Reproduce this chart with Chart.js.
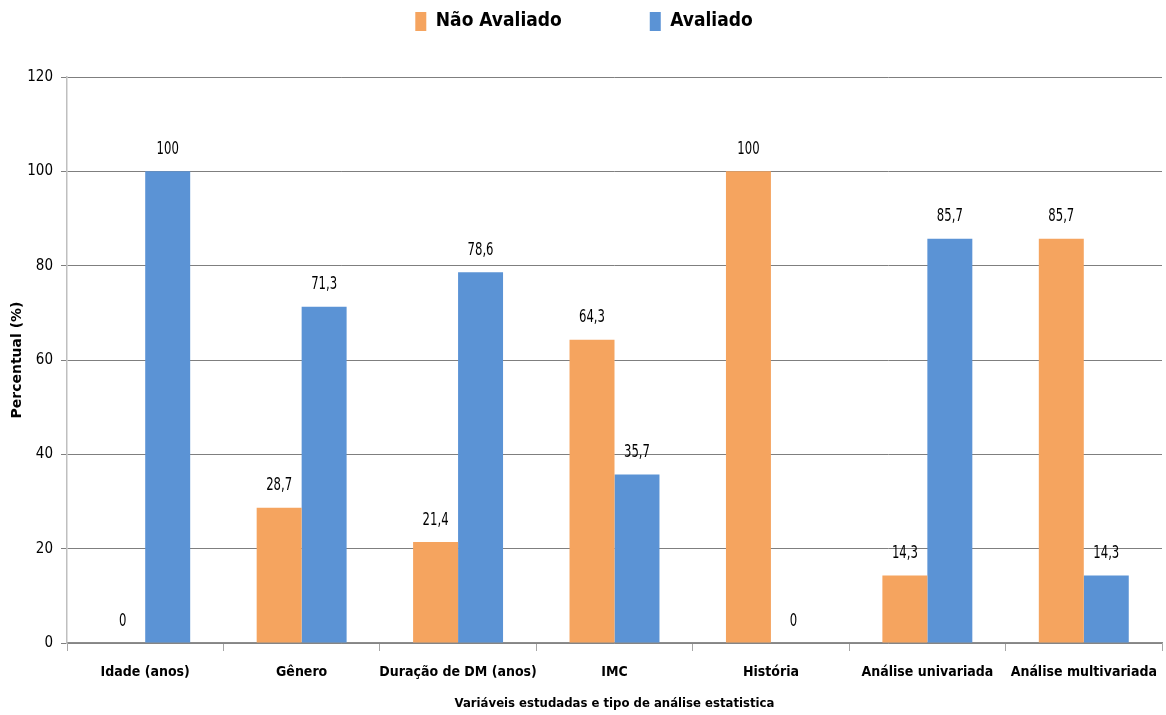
<!DOCTYPE html>
<html>
<head>
<meta charset="utf-8">
<script src="https://cdn.jsdelivr.net/npm/chart.js@4/dist/chart.umd.min.js"></script>
<style>
html,body{margin:0;padding:0;background:#fff;}
#wrap{width:1166px;height:715px;position:relative;}
</style>
</head>
<body>
<div id="wrap"><canvas id="c" width="1166" height="715"></canvas></div>
<script>
const categories = ["Idade (anos)", "Gênero", "Duração de DM (anos)", "IMC", "História", "Análise univariada", "Análise multivariada"];
const naoAvaliado = [0, 28.7, 21.4, 64.3, 100, 14.3, 85.7];
const avaliado = [100, 71.3, 78.6, 35.7, 0, 85.7, 14.3];
const seriesNames = ["Não Avaliado", "Avaliado"];
const yTicks = [0, 20, 40, 60, 80, 100, 120];

const NARROW = '"DejaVu Sans Condensed", "Liberation Sans Narrow", "Liberation Sans", sans-serif';

const labelPlugin = {
  id: 'barLabels',
  afterDatasetsDraw(chart) {
    const ctx = chart.ctx;
    chart.data.datasets.forEach((ds, i) => {
      const meta = chart.getDatasetMeta(i);
      meta.data.forEach((bar, j) => {
        const v = ds.data[j];
        const txt = String(v).replace('.', ',');
        ctx.save();
        ctx.translate(bar.x, bar.y - 22);
        ctx.scale(0.72, 1);
        ctx.font = '18px ' + NARROW;
        ctx.fillStyle = '#000';
        ctx.textAlign = 'center';
        ctx.textBaseline = 'middle';
        ctx.fillText(txt, 0, 0);
        ctx.restore();
      });
    });
  }
};

const LEGEND_TOP = -76;
const legendFitPlugin = {
  id: 'legendFit',
  beforeLayout(chart) {
    const lg = chart.legend;
    if (lg && !lg._patched) {
      const f = lg.fit;
      lg.fit = function () { f.call(this); this.height = 77 - LEGEND_TOP; };
      lg._patched = true;
    }
  }
};

new Chart(document.getElementById('c'), {
  type: 'bar',
  data: {
    labels: categories,
    datasets: [
      { label: seriesNames[0], data: naoAvaliado, backgroundColor: '#F5A45F', borderWidth: 0 },
      { label: seriesNames[1], data: avaliado, backgroundColor: '#5B93D5', borderWidth: 0 }
    ]
  },
  options: {
    responsive: false,
    animation: false,
    layout: { padding: { top: LEGEND_TOP, right: 4, left: 6, bottom: 4 } },
    plugins: {
      tooltip: { enabled: false },
      legend: {
        position: 'top',
        align: 'center',
        labels: {
          boxWidth: 11,
          boxHeight: 19,
          padding: 88,
          color: '#000',
          font: { family: NARROW, size: 19, weight: 'bold' }
        }
      }
    },
    datasets: { bar: { categoryPercentage: 0.575, barPercentage: 1.0 } },
    scales: {
      x: {
        offset: true,
        grid: { display: true, drawOnChartArea: false, offset: true, color: '#A6A6A6', tickLength: 8 },
        border: { display: true, color: '#8C8C8C', width: 1.5 },
        ticks: { color: '#000', font: { family: NARROW, size: 14, weight: 'bold' }, padding: 13, maxRotation: 0, autoSkip: false },
        title: { display: true, text: 'Variáveis estudadas e tipo de análise estatistica', color: '#000', font: { family: NARROW, size: 13, weight: 'bold' }, padding: { top: 6, bottom: 0 } },
        afterFit(scale) { scale.height = 68; scale.paddingRight = 0; scale.paddingLeft = 0; }
      },
      y: {
        min: 0, max: 120,
        afterBuildTicks(scale) { scale.ticks = yTicks.map(v => ({ value: v })); },
        grid: { color: '#7F7F7F', tickLength: 6, lineWidth: 1 },
        border: { display: true, color: '#BFBFBF', width: 1.5 },
        ticks: { color: '#000', font: { family: NARROW, size: 15 }, padding: 8 },
        title: { display: true, text: 'Percentual (%)', color: '#000', font: { family: '"DejaVu Sans", sans-serif', size: 14, weight: 'bold' }, padding: { top: 3, bottom: 6 } },
        afterFit(scale) { scale.width = 61; }
      }
    }
  },
  plugins: [labelPlugin, legendFitPlugin]
});
</script>
</body>
</html>
